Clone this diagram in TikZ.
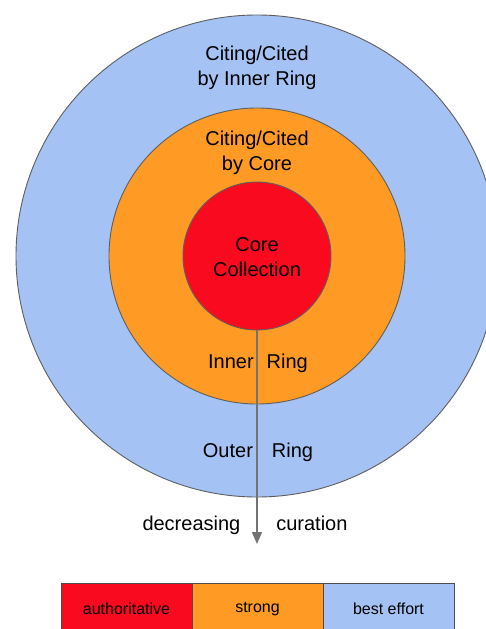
\documentclass[tikz,border=0pt]{standalone}
\usepackage{fontspec}
\setmainfont{Liberation Sans}
\usetikzlibrary{positioning,arrows.meta}

\definecolor{ringblue}{HTML}{A4C2F4}
\definecolor{ringorange}{HTML}{FF9A24}
\definecolor{corered}{HTML}{F90A1F}
\definecolor{edgegray}{HTML}{5F5F5F}
\definecolor{arrowgray}{HTML}{737373}

\begin{document}
\begin{tikzpicture}[x=1pt,y=-1pt,
    ring node/.style={circle,draw=edgegray,line width=0.9pt,inner sep=0pt},
    label node/.style={align=center,font=\fontsize{20}{24.5}\selectfont},
    key node/.style={draw=edgegray!80!black,line width=1pt,minimum width=131pt,minimum height=52pt,
        inner sep=0pt,outer sep=0pt,font=\fontsize{16}{19}\selectfont}]
    \useasboundingbox (0,0) rectangle (486,629);
    \fill[white] (0,0) rectangle (486,629);

    \node[ring node,fill=ringblue,minimum size=482pt] (outer) at (257,256) {};
    \node[ring node,fill=ringorange,minimum size=296pt] (inner) at (257,256) {};
    \node[ring node,fill=corered,minimum size=148pt] (core) at (257,256) {};

    \node[label node] (outertitle) at (257,68) {Citing/Cited\\by Inner Ring};
    \node[label node] (innertitle) at (257,153) {Citing/Cited\\by Core};
    \node[label node] (coretitle) at (257,257) {Core\\Collection};
    \node[label node] (innerlabel) at (258,363) {Inner\hspace{13pt}Ring};
    \node[label node] (outerlabel) at (258,452) {Outer\hspace{19pt}Ring};
    \node[label node] (curation) at (245,525) {decreasing\hspace{36pt}curation};

    \coordinate (tip) at (257,544);
    \draw[arrowgray,line width=1.3pt,-{Triangle[length=12pt,width=10pt]}] (core.south) -- (tip);

    \node[key node,fill=corered] (authkey) at (126.5,609) {authoritative};
    \node[key node,fill=ringorange] (strongkey) [right=0pt of authkey] {strong};
    \node[key node,fill=ringblue] (bestkey) [right=0pt of strongkey] {best effort};
\end{tikzpicture}
\end{document}
